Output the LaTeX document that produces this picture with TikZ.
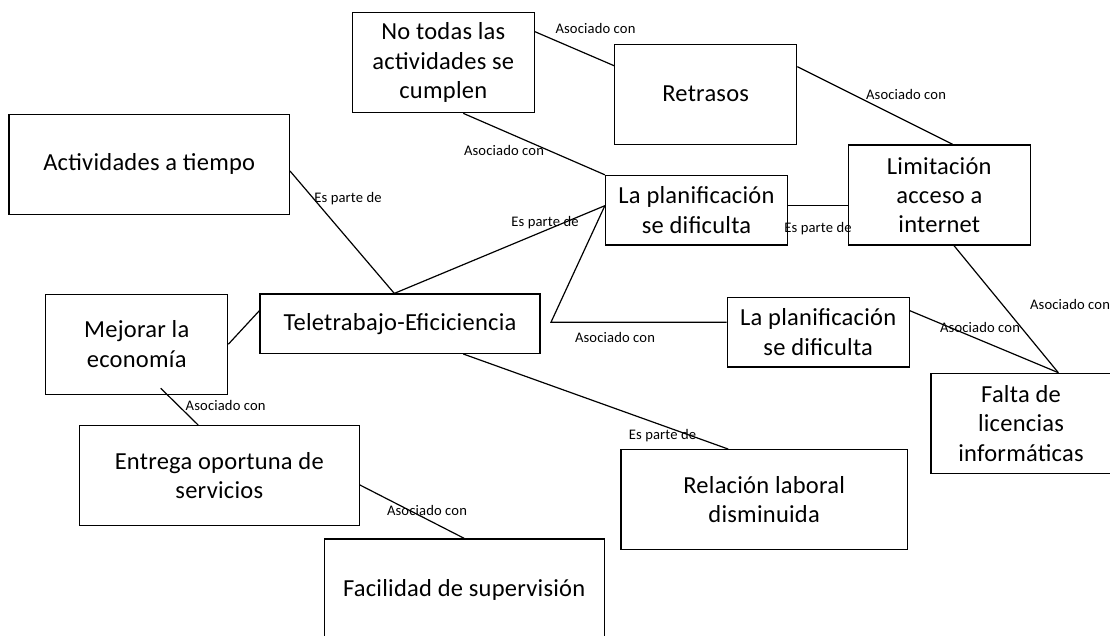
\documentclass[tikz,border=0pt]{standalone}
\usepackage{fontspec}
\setmainfont{Carlito}[LetterSpace=1]
\usepackage{tikz}

\begin{document}
\begin{tikzpicture}[x=1pt, y=-1pt,
    concept/.style={draw=black, line width=1.3pt, align=center, inner sep=2pt,
        minimum width=182pt, minimum height=100pt, font=\fontsize{24.5}{29.3}\selectfont},
    relname/.style={inner sep=0pt, font=\fontsize{14.6}{17}\selectfont},
    link/.style={draw=black, line width=1.2pt}]
    \useasboundingbox (0,0) rectangle (1110,635);
    \clip (0,0) rectangle (1110,635);
    % Boxes
    \node[concept] (no_todas) at (443.3,62.7) {No todas las\\actividades se\\cumplen};
    \node[concept] (retrasos) at (705.7,94.2) {Retrasos};
    \node[concept, minimum height=69.5pt] (plan_top) at (696.5,210.2) {La planificación\\se dificulta};
    \node[concept] (limit_acceso) at (939.3,195) {Limitación\\acceso a\\internet};
    \node[concept, minimum height=69.7pt] (plan_mid) at (818.2,332.2) {La planificación\\se dificulta};
    \node[concept, minimum width=180pt] (falta_lic) at (1021,423.3) {Falta de\\licencias\\informáticas};
    \node[concept, minimum width=286.3pt] (relacion) at (764.2,499.7) {Relación laboral\\disminuida};
    \node[concept, minimum width=280.3pt] (act_tiempo) at (149.2,164.2) {Actividades a tiempo};
    \node[concept, minimum width=280pt, minimum height=59.3pt] (teletrabajo) at (400,323.7) {Teletrabajo-Eficiciencia};
    \node[concept] (mejorar) at (136.7,344.2) {Mejorar la\\economía};
    \node[concept, minimum width=280pt] (entrega) at (219.3,475.8) {Entrega oportuna de\\servicios};
    \node[concept, minimum width=280pt, minimum height=102pt] (facilidad) at (464.2,590) {Facilidad de supervisión};
    \coordinate (codo) at (551,322.2);

    % Links
    \draw[link] ([yshift=31pt]no_todas.east) -- ([yshift=28.5pt]retrasos.west);
    \draw[link] ([yshift=27.5pt]retrasos.east) -- ([xshift=13.4pt]limit_acceso.north);
    \draw[link] ([xshift=20pt]no_todas.south) -- (plan_top.north west);
    \draw[link] ([yshift=-6.8pt]act_tiempo.east) -- ([xshift=-5.7pt]teletrabajo.north);
    \draw[link] ([xshift=-5.7pt]teletrabajo.north) -- ([yshift=4.5pt]plan_top.west);
    \draw[link] ([yshift=4.5pt]plan_top.west) -- (codo) -- (codo -| plan_mid.west);
    \draw[link] ([yshift=4.5pt]plan_top.east) -- ([yshift=-10.7pt]limit_acceso.west);
    \draw[link] ([xshift=14.7pt]limit_acceso.south) -- ([xshift=37.3pt]falta_lic.north);
    \draw[link] ([yshift=21.5pt]plan_mid.east) -- ([xshift=37.3pt]falta_lic.north);
    \draw[link] (mejorar.east) -- ([yshift=13pt]teletrabajo.west);
    \draw[link] ([xshift=63.3pt]teletrabajo.south) -- ([xshift=-36pt]relacion.north);
    \draw[link] ([xshift=24pt,yshift=6.6pt]mejorar.south) -- ([xshift=-21pt]entrega.north);
    \draw[link] ([yshift=-9.2pt]entrega.east) -- (facilidad.north);

    % Link names
    \node[relname] (r_retrasos) at (595.5,28.3) {Asociado con};
    \node[relname] (r_limit) at (906,94.3) {Asociado con};
    \node[relname] (r_notodas) at (504,150) {Asociado con};
    \node[relname] (r_act) at (348,199) {Es parte de};
    \node[relname] (r_plan_top) at (545,222.3) {Es parte de};
    \node[relname] (r_plan_mid) at (615,337.3) {Asociado con};
    \node[relname] (r_acceso) at (818,229) {Es parte de};
    \node[relname] (r_falta_a) at (1070,304.3) {Asociado con};
    \node[relname] (r_falta_b) at (980,327.7) {Asociado con};
    \node[relname] (r_relacion) at (662.5,435.7) {Es parte de};
    \node[relname] (r_entrega) at (225.7,405) {Asociado con};
    \node[relname] (r_facilidad) at (427,510.7) {Asociado con};
\end{tikzpicture}
\end{document}
